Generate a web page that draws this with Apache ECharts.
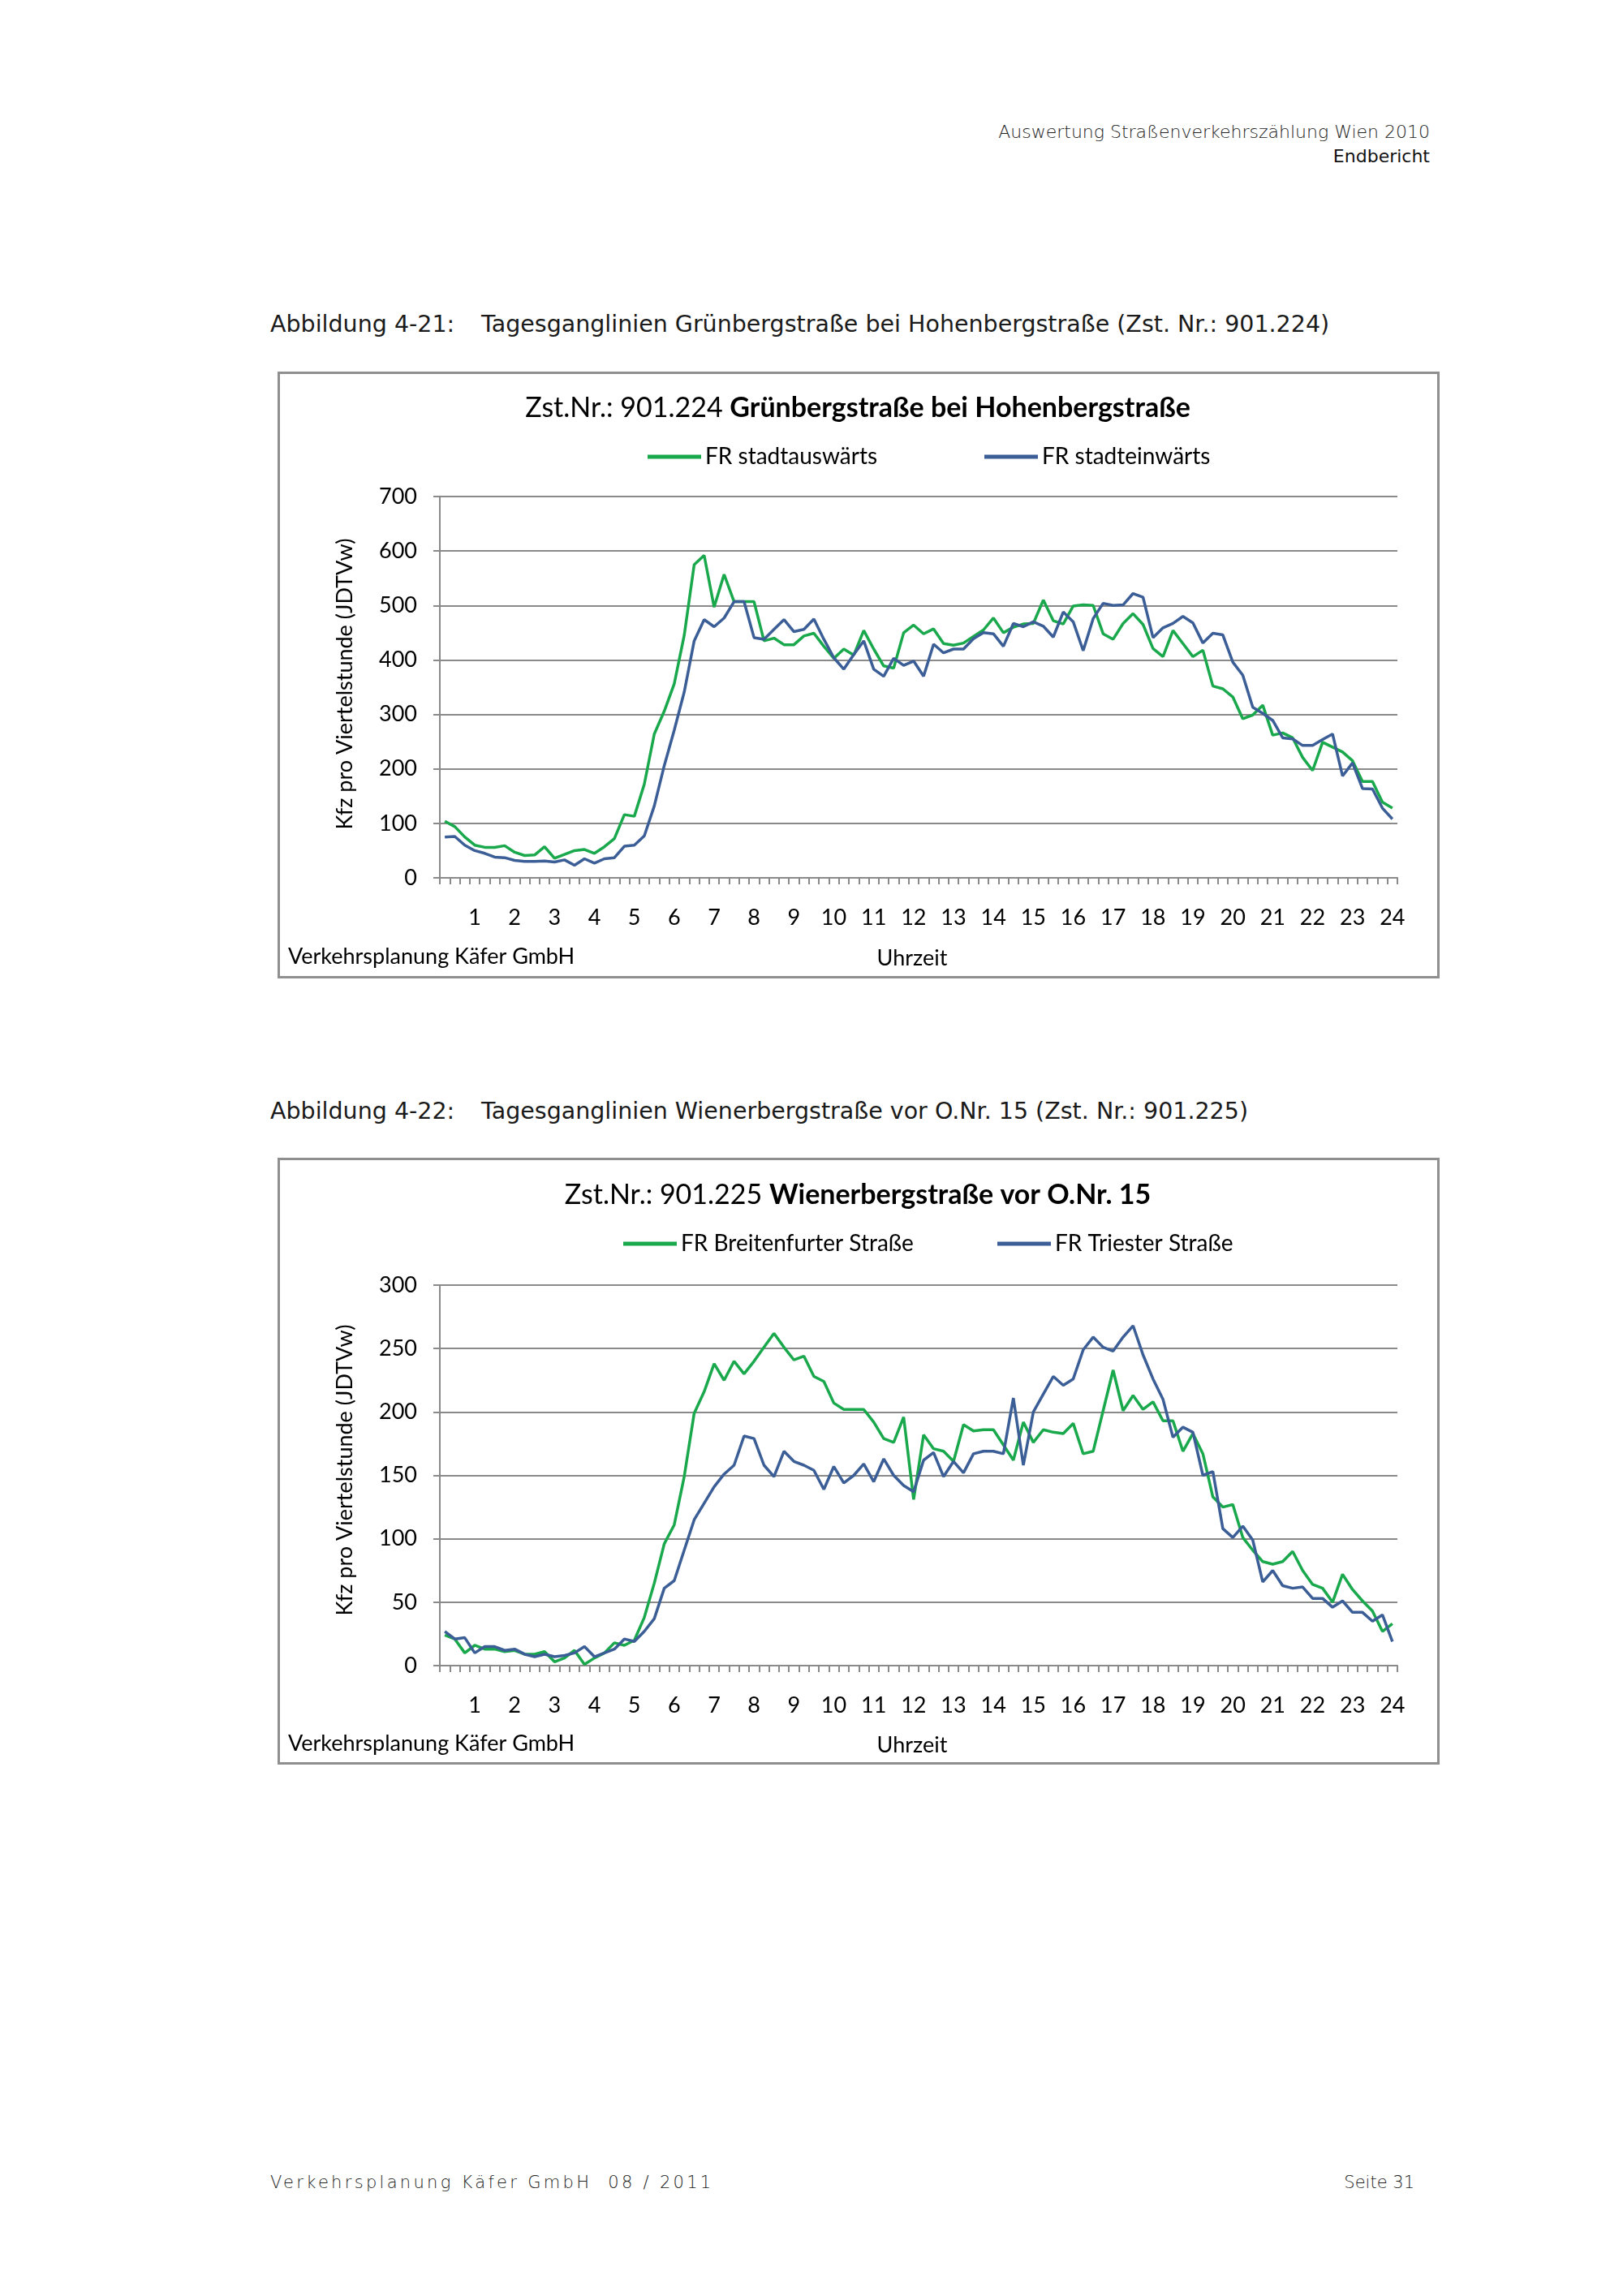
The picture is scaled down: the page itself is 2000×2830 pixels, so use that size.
<!DOCTYPE html>
<html>
<head>
<meta charset="utf-8">
<script src="https://cdn.jsdelivr.net/npm/echarts@6/dist/echarts.min.js"></script>
<style>
html,body{margin:0;padding:0;background:#fff;}
#page{position:relative;width:2000px;height:2830px;overflow:hidden;background:#fff;}
.t{position:absolute;white-space:pre;color:#1a1a1a;}
.frame{position:absolute;border:3px solid #8f8f8f;box-sizing:border-box;}
#chart{position:absolute;left:0;top:0;width:2000px;height:2830px;}
</style>
</head>
<body>
<div id="page">
  <div class="t" style="right:238px;top:149px;font-family:'DejaVu Sans';font-weight:200;font-size:22px;line-height:28px;color:#222;">Auswertung Straßenverkehrszählung Wien 2010</div>
  <div class="t" style="right:238px;top:179px;font-family:'DejaVu Sans';font-size:22px;line-height:28px;color:#111;">Endbericht</div>

  <div class="t" style="left:333px;top:382px;font-family:'DejaVu Sans';font-size:28.5px;line-height:36px;">Abbildung 4-21:</div>
  <div class="t" style="left:593px;top:382px;font-family:'DejaVu Sans';font-size:28.5px;line-height:36px;">Tagesganglinien Grünbergstraße bei Hohenbergstraße (Zst. Nr.: 901.224)</div>

  <div class="t" style="left:333px;top:1352px;font-family:'DejaVu Sans';font-size:28.5px;line-height:36px;">Abbildung 4-22:</div>
  <div class="t" style="left:593px;top:1352px;font-family:'DejaVu Sans';font-size:28.5px;line-height:36px;">Tagesganglinien Wienerbergstraße vor O.Nr. 15 (Zst. Nr.: 901.225)</div>

  <div class="frame" style="left:342px;top:458px;width:1432px;height:748px;"></div>
  <div class="frame" style="left:342px;top:1427px;width:1432px;height:748px;"></div>

  <div class="t" style="left:333px;top:2676px;font-family:'DejaVu Sans';font-weight:200;font-size:21px;line-height:28px;letter-spacing:3.3px;color:#222;">Verkehrsplanung Käfer GmbH  08 / 2011</div>
  <div class="t" style="right:257px;top:2676px;font-family:'DejaVu Sans';font-weight:200;font-size:21px;line-height:28px;color:#222;">Seite 31</div>

  <div id="chart"></div>
</div>
<script>
// ---- data ----
const hourLabels = ['1','2','3','4','5','6','7','8','9','10','11','12','13','14','15','16','17','18','19','20','21','22','23','24'];

const chart1Title = 'Zst.Nr.: 901.224 ';
const chart1TitleBold = 'Grünbergstraße bei Hohenbergstraße';
const chart1Names = ['FR stadtauswärts', 'FR stadteinwärts'];
const chart1Green = [104,94,75,60,56,56,59,47,41,42,57,36,43,50,52,45,57,72,116,113,172,264,306,356,445,575,592,497,557,
  507,507,507,435,440,428,428,444,449,425,403,420,409,454,420,389,385,450,464,448,457,430,427,431,443,455,477,450,460,466,467,510,472,466,499,501,500,448,438,
  467,485,465,421,406,454,430,406,418,352,347,332,292,299,317,262,266,257,221,197,249,240,231,215,177,177,139,128];
const chart1Blue = [75,76,60,50,45,38,37,32,30,30,31,29,33,23,35,27,35,37,58,60,77,132,206,271,341,435,474,461,477,
  507,507,441,438,456,474,452,456,475,438,404,383,410,435,383,370,403,390,398,370,429,413,420,420,439,450,448,425,467,461,470,462,442,488,470,417,476,504,500,
  501,522,515,441,459,467,480,468,431,449,446,396,372,313,302,289,257,255,243,243,254,264,187,211,164,163,128,108];

const chart2Title = 'Zst.Nr.: 901.225 ';
const chart2TitleBold = 'Wienerbergstraße vor O.Nr. 15';
const chart2Names = ['FR Breitenfurter Straße', 'FR Triester Straße'];
const chart2Green = [24,21,10,16,13,13,11,12,9,9,11,3,6,12,1,6,10,18,16,20,38,65,96,111,149,199,216,238,225,
  240,230,240,251,262,251,241,244,228,224,207,202,202,202,192,179,176,196,131,182,171,169,161,190,185,186,186,174,162,192,176,186,184,183,191,167,169,201,233,
  201,213,202,208,193,193,169,183,167,133,125,127,101,91,82,80,82,90,75,64,61,50,72,60,51,43,27,33];
const chart2Blue = [27,21,22,10,15,15,12,13,9,7,9,7,8,10,15,7,10,13,21,19,27,37,61,67,91,115,128,141,151,
  158,181,179,158,149,169,161,158,154,139,157,144,150,159,145,163,150,142,137,162,168,149,161,152,167,169,169,167,211,158,200,214,228,221,226,249,259,251,248,
  259,268,245,226,210,180,188,184,150,153,108,101,110,99,66,75,63,61,62,53,53,46,51,42,42,35,40,19];

const yTicks1 = {min: 0, max: 700, interval: 100};
const yTicks2 = {min: 0, max: 300, interval: 50};

const yAxisTitle = 'Kfz pro Viertelstunde (JDTVw)';
const xAxisTitle = 'Uhrzeit';
const sourceLabel = 'Verkehrsplanung Käfer GmbH';

// quarter-hour category slots (end of each quarter)
const categories = [];
for (let h = 0; h < 24; h++) {
  for (let q = 1; q <= 4; q++) {
    const m = q * 15;
    const hh = m === 60 ? h + 1 : h;
    const mm = m === 60 ? 0 : m;
    categories.push(String(hh).padStart(2, '0') + ':' + String(mm).padStart(2, '0'));
  }
}

// ---- styles ----
const GREEN = '#1aa84c';
const BLUE = '#3b5e97';
const GRID = '#8a8a8a';
const FONT = 'Lato';
const AX_FS = 27;

function xAxis(gridIndex) {
  return {
    type: 'category', gridIndex: gridIndex, data: categories, boundaryGap: true,
    axisLine: {show: true, lineStyle: {color: GRID, width: 2}},
    axisTick: {show: true, interval: 0, length: 8, lineStyle: {color: GRID, width: 2}},
    axisLabel: {
      interval: function (idx) { return (idx + 1) % 4 === 0; },
      formatter: function (v, idx) { return hourLabels[(idx + 1) / 4 - 1]; },
      margin: 36, fontFamily: FONT, fontSize: AX_FS, color: '#000'
    },
    splitLine: {show: false}
  };
}
function yAxis(gridIndex, t) {
  return {
    type: 'value', gridIndex: gridIndex, min: t.min, max: t.max, interval: t.interval,
    axisLine: {show: true, lineStyle: {color: GRID, width: 2}},
    axisTick: {show: true, length: 8, lineStyle: {color: GRID, width: 2}},
    axisLabel: {margin: 28, fontFamily: FONT, fontSize: AX_FS, color: '#000'},
    splitLine: {show: true, lineStyle: {color: GRID, width: 2}}
  };
}
function lineSeries(name, data, color, idx) {
  return {
    type: 'line', name: name, data: data, xAxisIndex: idx, yAxisIndex: idx,
    showSymbol: false, symbol: 'none', color: color,
    lineStyle: {color: color, width: 3.5}, itemStyle: {color: color},
    animation: false
  };
}
function legend(name, left, cy) {
  return {
    data: [name], left: left, top: cy - 15, padding: 0, itemGap: 0,
    icon: 'rect', itemWidth: 66, itemHeight: 5, selectedMode: false,
    textStyle: {fontFamily: FONT, fontSize: 28, color: '#000', lineHeight: 30}
  };
}
function titleText(x, y, normal, bold) {
  return {
    type: 'text', x: x, y: y,
    style: {
      text: '{n|' + normal + '}{b|' + bold + '}',
      align: 'center', verticalAlign: 'middle',
      rich: {
        n: {fontFamily: FONT, fontSize: 34, fontWeight: 'normal', fill: '#000', color: '#000'},
        b: {fontFamily: FONT, fontSize: 34, fontWeight: 'bold', fill: '#000', color: '#000'}
      }
    }
  };
}
function plainText(x, y, txt, align, rot) {
  return {
    type: 'text', x: x, y: y, rotation: rot || 0,
    style: {text: txt, align: align, verticalAlign: 'middle', fontFamily: FONT, fontSize: AX_FS, fill: '#000'}
  };
}

const option = {
  animation: false,
  grid: [
    {left: 542, top: 612, width: 1180, height: 470},
    {left: 542, top: 1584, width: 1180, height: 469}
  ],
  xAxis: [xAxis(0), xAxis(1)],
  yAxis: [yAxis(0, yTicks1), yAxis(1, yTicks2)],
  legend: [
    legend(chart1Names[0], 798, 563),
    legend(chart1Names[1], 1213, 563),
    legend(chart2Names[0], 768, 1533),
    legend(chart2Names[1], 1229, 1533)
  ],
  series: [
    lineSeries(chart1Names[0], chart1Green, GREEN, 0),
    lineSeries(chart1Names[1], chart1Blue, BLUE, 0),
    lineSeries(chart2Names[0], chart2Green, GREEN, 1),
    lineSeries(chart2Names[1], chart2Blue, BLUE, 1)
  ],
  graphic: [
    titleText(1057, 503, chart1Title, chart1TitleBold),
    titleText(1057, 1473, chart2Title, chart2TitleBold),
    plainText(425, 843, yAxisTitle, 'center', Math.PI / 2),
    plainText(425, 1812, yAxisTitle, 'center', Math.PI / 2),
    plainText(355, 1179, sourceLabel, 'left'),
    plainText(355, 2149, sourceLabel, 'left'),
    plainText(1124, 1181, xAxisTitle, 'center'),
    plainText(1124, 2151, xAxisTitle, 'center')
  ]
};

const chart = echarts.init(document.getElementById('chart'), null, {renderer: 'canvas'});
chart.setOption(option);
</script>
</body>
</html>
